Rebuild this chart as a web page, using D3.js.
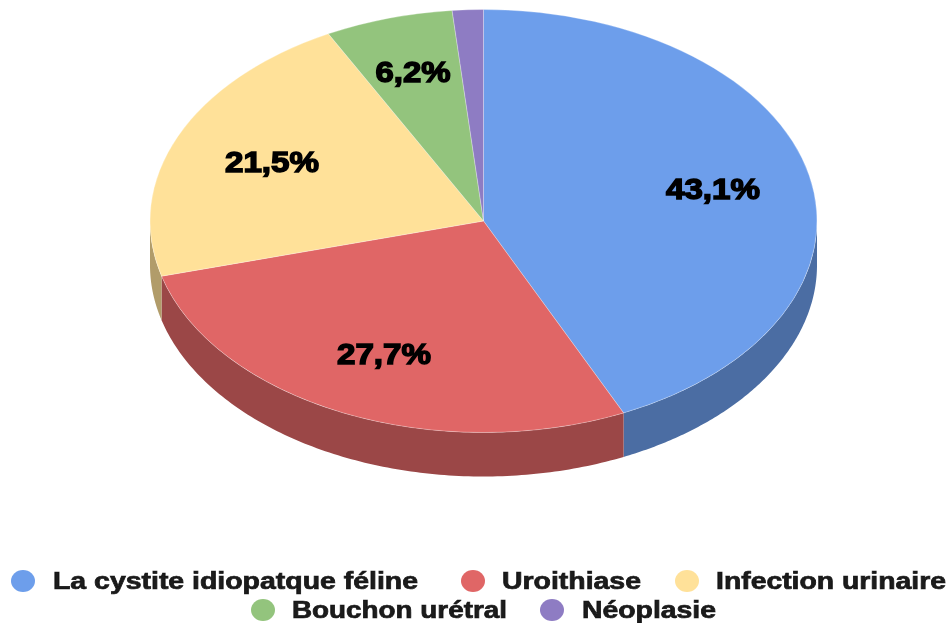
<!DOCTYPE html>
<html><head><meta charset="utf-8">
<script src="https://cdnjs.cloudflare.com/ajax/libs/d3/7.8.5/d3.min.js"></script>
<style>html,body{margin:0;padding:0;background:#fff;overflow:hidden}svg{display:block}
text{font-family:"Liberation Sans",Arial,sans-serif;font-weight:700}</style></head><body>
<script>
const categories=["La cystite idiopatque féline","Uroithiase","Infection urinaire","Bouchon urétral","Néoplasie"];
const values=[43.1,27.7,21.5,6.2,1.5];
const labels=["43,1%","27,7%","21,5%","6,2%",""];
const colors=["#6d9eeb","#e06666","#ffe199","#93c47d","#8e7cc3"];
const W=949,H=623,cx=483.5,cy=221,rx=333.5,ry=211.5,depth=44;
const svg=d3.select("body").append("svg").attr("width",W).attr("height",H);
svg.append("defs").append("filter").attr("id","soft").attr("x","-5%").attr("y","-5%").attr("width","110%").attr("height","110%")
  .append("feGaussianBlur").attr("stdDeviation",0.55);
const root=svg.append("g").attr("filter","url(#soft)");
const arcs=d3.pie().sort(null).value(d=>d)(values);
const px=a=>cx+rx*Math.sin(a), py=a=>cy-ry*Math.cos(a);
const side=d3.area().x(px).y0(py).y1(a=>py(a)+depth);
const lo=Math.PI/2,hi=3*Math.PI/2;
arcs.forEach((s,i)=>{
  const a0=Math.max(s.startAngle,lo),a1=Math.min(s.endAngle,hi);
  if(a1<=a0)return;
  root.append("path").attr("d",side(d3.range(0,121).map(k=>a0+(a1-a0)*k/120)))
    .attr("fill",d3.rgb(colors[i]).darker(1.03));
});
const unit=d3.arc().innerRadius(0).outerRadius(100);
root.append("g").attr("transform",`translate(${cx},${cy}) scale(${rx/100},${ry/100})`)
  .selectAll("path").data(arcs).join("path").attr("d",unit).attr("fill",(d,i)=>colors[i])
  .attr("stroke","#fff").attr("stroke-opacity",.35).attr("stroke-width",.8).attr("vector-effect","non-scaling-stroke");
const labelPos=[[713,188],[384,353],[272,161],[413,71]];
const labelWidth=[94,94,94,75];
labels.forEach((t,i)=>{ if(!t)return;
  root.append("text").attr("x",labelPos[i][0]).attr("y",labelPos[i][1]+11).attr("text-anchor","middle")
   .attr("font-size",30).attr("fill","#000").attr("stroke","#000").attr("stroke-width",1.5)
   .attr("textLength",labelWidth[i]).attr("lengthAdjust","spacingAndGlyphs").text(t);
});
const legend=[[23,53,365,581],[473,502,139,581],[687,716,230,581],[263,292,215,610],[552,582,134,610]];
legend.forEach((l,i)=>{
  root.append("ellipse").attr("cx",l[0]).attr("cy",l[3]).attr("rx",12).attr("ry",11).attr("fill",colors[i]);
  root.append("text").attr("x",l[1]).attr("y",l[3]+7.5).attr("font-size",23).attr("fill","#1a1a1a")
   .attr("stroke","#1a1a1a").attr("stroke-width",.7)
   .attr("textLength",l[2]).attr("lengthAdjust","spacingAndGlyphs").text(categories[i]);
});
</script></body></html>
